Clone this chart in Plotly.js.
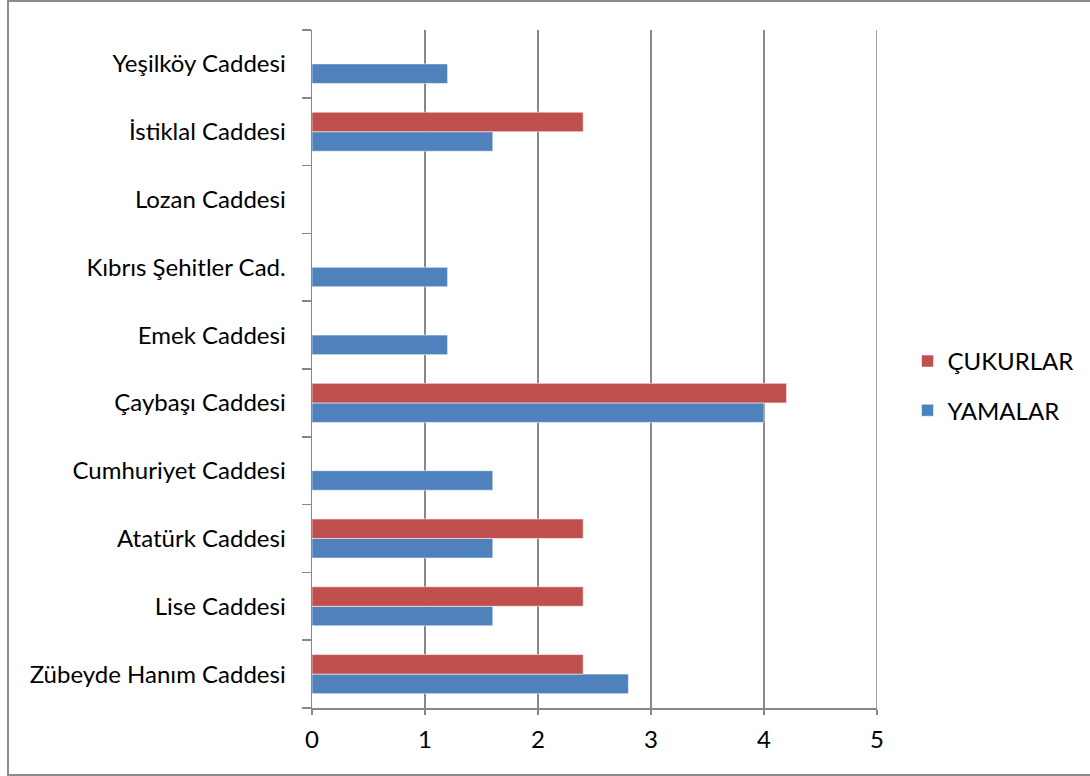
<!DOCTYPE html>
<html>
<head>
<meta charset="utf-8">
<script src="https://cdn.plot.ly/plotly-3.0.1.min.js"></script>
<style>
  html, body { margin: 0; padding: 0; background: #ffffff; }
  #chart { width: 1090px; height: 776px; }
</style>
</head>
<body>
<div id="chart"></div>
<script>
// Streets, listed bottom-to-top as they appear on the category axis
const streets = [
  'Zübeyde Hanım Caddesi',
  'Lise Caddesi',
  'Atatürk Caddesi',
  'Cumhuriyet Caddesi',
  'Çaybaşı Caddesi',
  'Emek Caddesi',
  'Kıbrıs Şehitler Cad.',
  'Lozan Caddesi',
  'İstiklal Caddesi',
  'Yeşilköy Caddesi'
];

// Patch counts per street
const yamalar = [2.8, 1.6, 1.6, 1.6, 4.0, 1.2, 1.2, null, 1.6, 1.2];
// Pothole counts per street
const cukurlar = [2.4, 2.4, 2.4, null, 4.2, null, null, null, 2.4, null];

const xTicks = [0, 1, 2, 3, 4, 5];

const FONT = 'Lato, "Liberation Sans", sans-serif';

const traces = [
  {
    type: 'bar',
    orientation: 'h',
    name: 'YAMALAR',
    y: streets,
    x: yamalar,
    legendgroup: 'y',
    legendrank: 2,
    marker: { color: '#4F81BD', line: { color: 'rgba(255,255,255,0.55)', width: 1 } },
    hoverinfo: 'x+name'
  },
  {
    type: 'bar',
    orientation: 'h',
    name: 'ÇUKURLAR',
    y: streets,
    x: cukurlar,
    legendgroup: 'c',
    legendrank: 1,
    marker: { color: '#C0504D', line: { color: 'rgba(255,255,255,0.55)', width: 1 } },
    hoverinfo: 'x+name'
  }
];

const layout = {
  width: 1090,
  height: 776,
  paper_bgcolor: '#ffffff',
  plot_bgcolor: '#ffffff',
  font: { family: FONT, size: 24, color: '#000000' },
  margin: { l: 312, r: 213, t: 30, b: 68, autoexpand: false },
  barmode: 'group',
  bargap: 0.424,
  bargroupgap: 0,
  showlegend: true,
  legend: {
    x: 1.054,
    y: 0.475,
    xanchor: 'left',
    yanchor: 'middle',
    traceorder: 'grouped',
    tracegroupgap: 15,
    font: { family: FONT, size: 24 },
    itemwidth: 30
  },
  xaxis: {
    range: [0, 5],
    tickvals: xTicks,
    ticktext: xTicks.map(String),
    showgrid: true,
    gridcolor: '#878787',
    gridwidth: 1.5,
    zeroline: false,
    showline: true,
    linecolor: '#878787',
    linewidth: 1.5,
    ticks: 'outside',
    ticklen: 5,
    tickcolor: '#878787',
    tickwidth: 1.5,
    ticklabelstandoff: 5,
    tickfont: { family: FONT, size: 24 },
    fixedrange: true
  },
  yaxis: {
    type: 'category',
    categoryorder: 'array',
    categoryarray: streets,
    showgrid: false,
    zeroline: false,
    showline: true,
    linecolor: '#878787',
    linewidth: 1.5,
    ticks: 'outside',
    tickson: 'boundaries',
    ticklen: 9,
    tickcolor: '#878787',
    tickwidth: 1.5,
    ticklabelstandoff: 20,
    tickfont: { family: FONT, size: 24 },
    fixedrange: true
  },
  shapes: [
    {
      type: 'line',
      xref: 'x', yref: 'paper',
      x0: 5, x1: 5, y0: 0, y1: 1,
      line: { color: '#878787', width: 1.5 }
    },
    {
      type: 'rect',
      xref: 'paper', yref: 'paper',
      x0: (8 - 312) / 565, x1: (1100 - 312) / 565,
      y0: (708 - 775) / 678, y1: (708 - 1) / 678,
      line: { color: '#8c8c8c', width: 2 },
      fillcolor: 'rgba(0,0,0,0)',
      layer: 'below'
    }
  ]
};

Plotly.newPlot('chart', traces, layout, { displayModeBar: false, staticPlot: true });
</script>
</body>
</html>
